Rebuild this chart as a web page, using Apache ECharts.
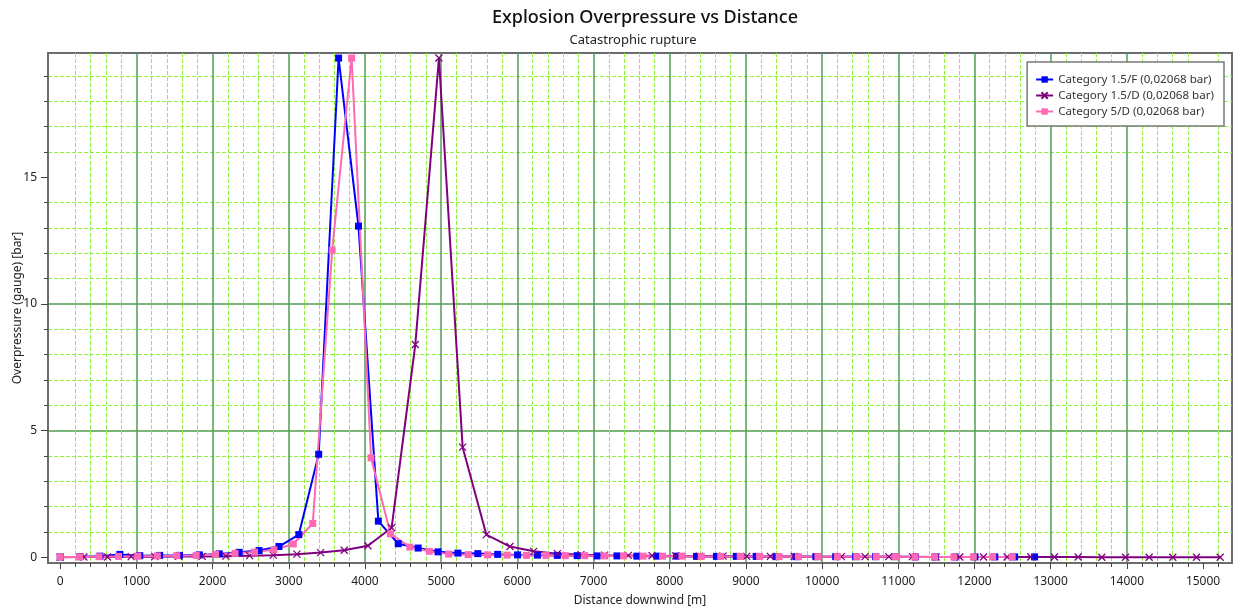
<!DOCTYPE html>
<html>
<head>
<meta charset="utf-8">
<script src="https://cdn.jsdelivr.net/npm/echarts@6/dist/echarts.min.js"></script>
<style>html,body{margin:0;padding:0;background:#fff;}#chart{width:1235px;height:607px;}</style>
</head>
<body>
<div id="chart"></div>
<script>
// Category 1.5/F
const distF = [0,261,522,783,1044,1305,1566,1827,2088,2349,2610,2871,3132,3393,3654,3915,4176,4437,4698,4959,5220,5481,5742,6003,6264,6525,6786,7047,7308,7569,7830,8091,8352,8613,8874,9135,9396,9657,9918,10179,10440,10701,10962,11223,11484,11745,12006,12267,12528,12789];
const presF = [0.02,0.03,0.05,0.12,0.07,0.08,0.08,0.10,0.14,0.20,0.27,0.43,0.90,4.07,19.70,13.07,1.43,0.54,0.37,0.22,0.17,0.15,0.12,0.10,0.09,0.08,0.07,0.06,0.06,0.05,0.05,0.05,0.04,0.04,0.04,0.04,0.03,0.03,0.03,0.03,0.03,0.03,0.03,0.02,0.02,0.02,0.02,0.02,0.02,0.02];
// Category 1.5/D
const distD15 = [0,311,621,932,1243,1554,1864,2175,2486,2796,3107,3418,3728,4039,4350,4661,4971,5282,5593,5903,6214,6525,6835,7146,7457,7768,8078,8389,8700,9010,9321,9632,9943,10253,10564,10875,11185,11496,11807,12118,12428,12739,13050,13360,13671,13982,14293,14603,14914,15225];
const presD15 = [0.01,0.02,0.02,0.03,0.03,0.04,0.04,0.05,0.07,0.09,0.13,0.19,0.28,0.46,1.17,8.40,19.70,4.35,0.90,0.43,0.24,0.15,0.11,0.09,0.08,0.07,0.06,0.05,0.05,0.04,0.04,0.04,0.03,0.03,0.03,0.03,0.03,0.02,0.02,0.02,0.02,0.02,0.02,0.02,0.01,0.01,0.01,0.01,0.01,0.01];
// Category 5/D
const dist5D = [0,255,510,765,1020,1275,1530,1785,2040,2295,2550,2805,3060,3315,3570,3825,4080,4335,4590,4845,5100,5355,5610,5865,6120,6375,6630,6885,7140,7395,7650,7905,8160,8415,8670,8925,9180,9435,9690,9945,10200,10455,10710,10965,11220,11475,11730,11985,12240,12495];
const pres5D = [0.02,0.02,0.03,0.04,0.05,0.06,0.07,0.08,0.12,0.16,0.21,0.30,0.53,1.34,12.12,19.70,3.93,0.93,0.41,0.24,0.13,0.11,0.10,0.09,0.08,0.08,0.07,0.07,0.06,0.06,0.05,0.05,0.05,0.04,0.04,0.04,0.04,0.03,0.03,0.03,0.03,0.03,0.03,0.03,0.02,0.02,0.02,0.02,0.02,0.02];

const seriesNames = ['Category 1.5/F (0,02068 bar)','Category 1.5/D (0,02068 bar)','Category 5/D (0,02068 bar)'];
const xTicks = [0,1000,2000,3000,4000,5000,6000,7000,8000,9000,10000,11000,12000,13000,14000,15000];
const yTicks = [0,5,10,15];

function pairs(xs, ys){ return xs.map((x,i)=>[x, ys[i]]); }

const FONT = '"Noto Sans", "Open Sans", sans-serif';
const majorGrid = {color:'#4f9f4f', width:1.5, type:'solid'};
const minorGrid = {color:'#8cf03c', width:1, type:[4,2]};
const axisGrey = '#6c6c6c';

const chart = echarts.init(document.getElementById('chart'), null, {renderer:'canvas'});
chart.setOption({
  animation:false,
  backgroundColor:'#ffffff',
  textStyle:{fontFamily:FONT},
  title:[
    {text:'Explosion Overpressure vs Distance', left:640, top:4, textAlign:'center',
     textStyle:{fontFamily:FONT, fontSize:18, fontWeight:500, color:'#111'}},
    {text:'Catastrophic rupture', left:628, top:29, textAlign:'center',
     textStyle:{fontFamily:FONT, fontSize:13, fontWeight:'normal', color:'#222'}}
  ],
  grid:{left:48, right:3, top:53, bottom:44, show:true, borderColor:axisGrey, borderWidth:2, backgroundColor:'#fff', containLabel:false, outerBoundsMode:'none'},
  legend:{
    orient:'vertical', right:11, top:62,
    backgroundColor:'#fff', borderColor:'#7a7a7a', borderWidth:1.5,
    padding:[11,10,8,8], itemGap:3, itemWidth:17, itemHeight:8,
    textStyle:{fontFamily:FONT, fontSize:11.6, color:'#333', lineHeight:13},
    data:seriesNames
  },
  xAxis:{
    type:'value', min:-160, max:15380, minInterval:1000, maxInterval:1000, splitNumber:15,
    name:'Distance downwind [m]', nameLocation:'middle', nameGap:32,
    nameTextStyle:{fontFamily:FONT, fontSize:12, color:'#222'},
    axisLine:{show:true, onZero:false, lineStyle:{color:axisGrey, width:2}},
    axisTick:{show:true, length:6, customValues:xTicks, lineStyle:{color:'#444'}},
    minorTick:{show:true, splitNumber:5, length:4, lineStyle:{color:'#444'}},
    axisLabel:{customValues:xTicks, formatter:(v)=>String(Math.round(v)), fontFamily:FONT, fontSize:12, color:'#222', margin:13},
    splitLine:{show:true, showMinLine:false, showMaxLine:false, lineStyle:majorGrid},
    minorSplitLine:{show:true, lineStyle:minorGrid}
  },
  yAxis:{
    type:'value', min:-0.22, max:19.9, minInterval:5, maxInterval:5, splitNumber:4,
    name:'Overpressure (gauge) [bar]', nameLocation:'middle', nameGap:24, nameMoveOverlap:false,
    nameTextStyle:{fontFamily:FONT, fontSize:12, color:'#222'},
    axisLine:{show:true, onZero:false, lineStyle:{color:axisGrey, width:2}},
    axisTick:{show:true, length:7, customValues:yTicks, lineStyle:{color:'#444'}},
    minorTick:{show:true, splitNumber:5, length:4, lineStyle:{color:'#444'}},
    axisLabel:{customValues:yTicks, formatter:(v)=>String(Math.round(v)), fontFamily:FONT, fontSize:12, color:'#222', margin:11},
    splitLine:{show:true, showMinLine:false, showMaxLine:false, lineStyle:majorGrid},
    minorSplitLine:{show:true, lineStyle:minorGrid}
  },
  series:[
    {name:seriesNames[0], type:'line', data:pairs(distF, presF), symbol:'rect', symbolSize:7,
     lineStyle:{color:'#0000ff', width:2}, itemStyle:{color:'#0000ff'}},
    {name:seriesNames[1], type:'line', data:pairs(distD15, presD15), symbol:'path://M0,0L10,10M10,0L0,10', symbolSize:7,
     lineStyle:{color:'#800080', width:2}, itemStyle:{color:'#800080', borderColor:'#800080', borderWidth:1.3}},
    {name:seriesNames[2], type:'line', data:pairs(dist5D, pres5D), symbol:'rect', symbolSize:7,
     lineStyle:{color:'#ff69b4', width:2}, itemStyle:{color:'#ff69b4'}}
  ]
});
</script>
</body>
</html>
